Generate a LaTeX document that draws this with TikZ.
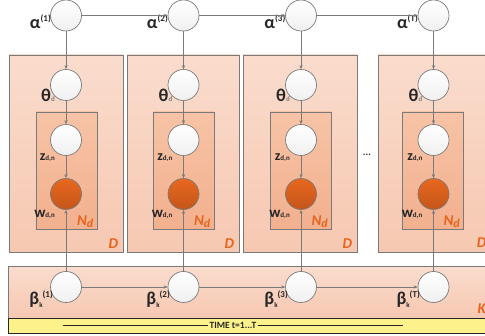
\documentclass[tikz,border=0pt]{standalone}
\usepackage{fontspec}
\setmainfont{Carlito}
\usetikzlibrary{arrows.meta}
\definecolor{edge}{HTML}{7A7A7A}
\definecolor{plateTop}{HTML}{FADCCD}
\definecolor{plateBot}{HTML}{F6C8B1}
\definecolor{innerTop}{HTML}{F7C3A6}
\definecolor{innerBot}{HTML}{F2B08E}
\definecolor{obsTop}{HTML}{E8681F}
\definecolor{obsBot}{HTML}{C4551A}
\definecolor{lab}{HTML}{E8641E}
\definecolor{txt}{HTML}{262626}
\definecolor{yel}{HTML}{FCF18A}
\tikzset{
  latent/.style={circle, draw=edge, line width=0.7pt, minimum size=31pt, inner sep=0pt, top color=white, bottom color=gray!12},
  observed/.style={circle, draw=edge, line width=0.7pt, minimum size=31pt, inner sep=0pt, top color=obsTop, bottom color=obsBot},
  plate/.style={rectangle, draw=edge, line width=0.8pt, inner sep=0pt, top color=plateTop, bottom color=plateBot},
  innerplate/.style={rectangle, draw=edge, line width=0.8pt, inner sep=0pt, top color=innerTop, bottom color=innerBot},
  conn/.style={draw=edge, line width=0.7pt, -{Stealth[length=4pt,width=3.2pt]}},
  varlab/.style={font=\bfseries\fontsize{18}{18}\selectfont, text=txt, inner sep=0pt, anchor=base east},
  platelab/.style={font=\bfseries\itshape\fontsize{15}{15}\selectfont, text=lab, inner sep=0pt, anchor=base east},
}
\newcommand{\smtxt}[1]{{\fontsize{7}{7}\selectfont #1}}
\newcommand{\suptxt}[1]{{\fontsize{9}{9}\selectfont #1}}
\begin{document}
\begin{tikzpicture}[x=1pt,y=1pt]
\useasboundingbox (0,0) rectangle (485,-336);
% K plate and time bar
\node[plate, minimum width=490pt, minimum height=52pt, anchor=north west] (K) at (8,-266) {};
\node[rectangle, draw=txt, line width=0.8pt, fill=yel, minimum width=490pt, minimum height=15pt, anchor=north west, inner sep=0pt] (bar) at (8,-318) {};
\node[platelab] (Klab) at (486,-314) {K};
\node[font=\bfseries\fontsize{9.5}{9.5}\selectfont, text=txt, inner sep=1pt] (time) at (233,-325.5) {TIME t=1...T};
\coordinate (tl) at (63,-325.5);
\coordinate (tr) at (403,-325.5);
\draw[txt, line width=0.8pt] (tl) -- (time.west);
\draw[txt, line width=0.8pt] (time.east) -- (tr);
% D plates
\foreach \i/\x/\w in {1/66/114, 2/183/112, 3/300/114, 4/435/114}{
  \node[plate, minimum width=\w pt, minimum height=197pt] (D\i) at (\x,-153.5) {};
}
\foreach \i/\x in {1/66.5, 2/183.5, 3/301, 4/433}{
  \node[innerplate, minimum width=61pt, minimum height=117pt] (N\i) at (\x,-170.5) {};
}
% dots
\node[font=\bfseries\fontsize{10}{10}\selectfont, text=txt] (dots) at (367,-155) {...};
% nodes
\foreach \i/\x in {1/66, 2/183.5, 3/301, 4/433.5}{
  \node[latent] (a\i) at (\x,-15.5) {};
  \node[latent] (th\i) at (\x,-85) {};
  \node[latent] (z\i) at (\x,-140) {};
  \node[observed] (w\i) at (\x,-194) {};
  \node[latent] (b\i) at (\x,-287) {};
  \draw[conn] (a\i) -- (th\i);
  \draw[conn] (th\i) -- (z\i);
  \draw[conn] (z\i) -- (w\i);
  \draw[conn] (b\i) -- (w\i);
  \node[varlab] (thl\i) at ([xshift=-11pt,yshift=-17pt]th\i.center) {θ\smtxt{\textcolor{gray}{d}}};
  \node[varlab] (zl\i) at ([xshift=-11pt,yshift=-20.5pt]z\i.center) {\fontsize{14}{14}\selectfont z\smtxt{d,n}};
  \node[varlab] (wl\i) at ([xshift=-11pt,yshift=-24pt]w\i.center) {\fontsize{15}{15}\selectfont w\smtxt{d,n}};
  \node[platelab] (nl\i) at ([xshift=-4pt,yshift=3.5pt]N\i.south east) {N\fontsize{12}{12}\selectfont\raisebox{-2pt}{d}};
}
\node[platelab] (dl1) at ([xshift=-5pt,yshift=4pt]D1.south east) {D};
\node[platelab] (dl2) at ([xshift=-5pt,yshift=4pt]D2.south east) {D};
\node[platelab] (dl3) at ([xshift=-5pt,yshift=4pt]D3.south east) {D};
\node[platelab] (dl4) at (486.5,-248) {D};
% alpha labels
\node[varlab] (al1) at (51,-29) {α\raisebox{7pt}{\suptxt{(1)}}};
\node[varlab] (al2) at (168,-29) {α\raisebox{7pt}{\suptxt{(2)}}};
\node[varlab] (al3) at (285.5,-29) {α\raisebox{7pt}{\suptxt{(3)}}};
\node[varlab] (al4) at (418,-29) {α\raisebox{7pt}{\suptxt{(T)}}};
% beta labels
\node[varlab] (bl1) at (53,-305) {β\raisebox{-3pt}{\smtxt{k}}\raisebox{7pt}{\suptxt{(1)}}};
\node[varlab] (bl2) at (170,-305) {β\raisebox{-3pt}{\smtxt{k}}\raisebox{7pt}{\suptxt{(2)}}};
\node[varlab] (bl3) at (288,-305) {β\raisebox{-3pt}{\smtxt{k}}\raisebox{7pt}{\suptxt{(3)}}};
\node[varlab] (bl4) at (420,-305) {β\raisebox{-3pt}{\smtxt{k}}\raisebox{7pt}{\suptxt{(T)}}};
% chains
\draw[conn] (a1) -- (a2);
\draw[conn] (a2) -- (a3);
\draw[conn] (a3) -- (a4);
\draw[conn] (b1) -- (b2);
\draw[conn] (b2) -- (b3);
\draw[conn] (b3) -- (b4);
\end{tikzpicture}
\end{document}
